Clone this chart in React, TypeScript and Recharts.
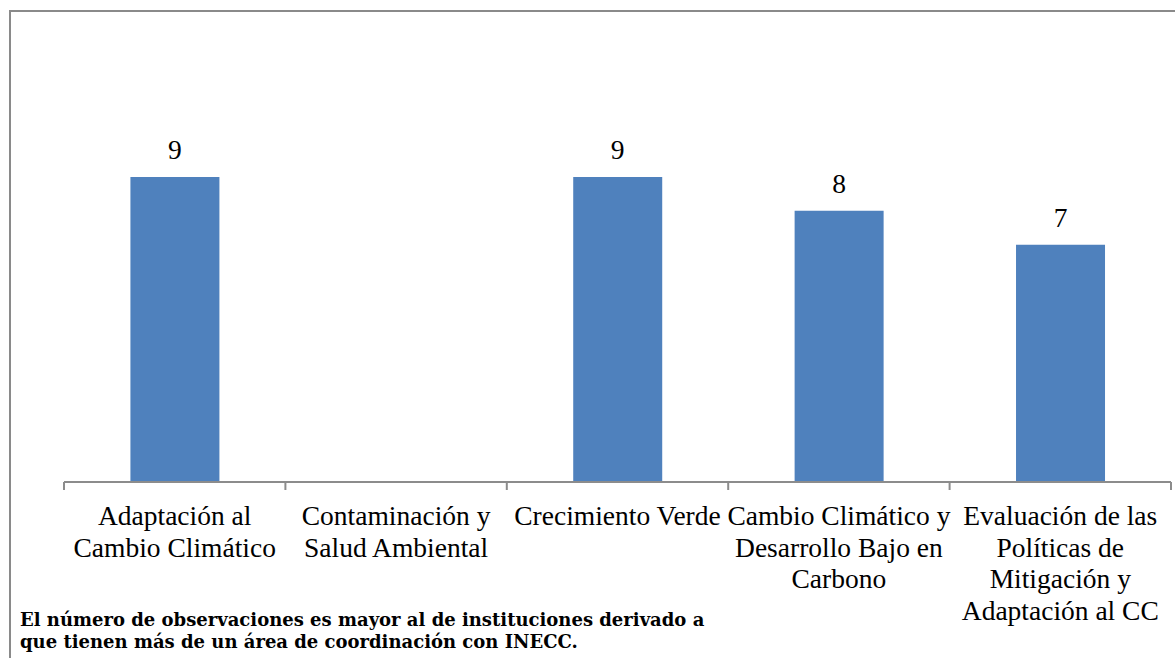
import React from "react";
import { Bar, BarChart, LabelList, XAxis, YAxis } from "recharts";

const categories = [
  "Adaptación al\nCambio Climático",
  "Contaminación y\nSalud Ambiental",
  "Crecimiento Verde",
  "Cambio Climático y\nDesarrollo Bajo en\nCarbono",
  "Evaluación de las\nPolíticas de\nMitigación y\nAdaptación al CC",
];
const observaciones: (number | null)[] = [9, null, 9, 8, 7];
const noteLines = [
  "El número de observaciones es mayor al de instituciones derivado a",
  "que tienen más de un área de coordinación con INECC.",
];

const data = categories.map((name, i) => ({ name, value: observaciones[i] }));

const SERIF = "'Liberation Serif', 'DejaVu Serif', serif";
const BLUE = "#4F81BD";
const AXIS = "#8c8c8c";
const TICK = 8;
const TICK_MARGIN = 2;

// label under each category; tick marks drawn at the band edges (Excel style)
function CategoryTick(props: any) {
  const { x, y, payload, index, visibleTicksCount } = props;
  const half = payload.offset || 0;
  const axisY = y - TICK - TICK_MARGIN;
  const lines = String(payload.value).split("\n");
  return (
    <g>
      <line x1={x - half} x2={x - half} y1={axisY} y2={axisY + TICK} stroke={AXIS} strokeWidth={2} />
      {index === visibleTicksCount - 1 && (
        <line x1={x + half} x2={x + half} y1={axisY} y2={axisY + TICK} stroke={AXIS} strokeWidth={2} />
      )}
      <text x={x} y={y} textAnchor="middle" fontFamily={SERIF} fontSize={27.5} fill="#000">
        {lines.map((l, i) => (
          <tspan key={i} x={x} dy={i === 0 ? 33 : 31.5}>
            {l}
          </tspan>
        ))}
      </text>
    </g>
  );
}

export default function App() {
  return (
    <div style={{ position: "absolute", left: 0, top: 0, width: 1175, height: 658, overflow: "hidden", background: "#fff" }}>
      <div style={{ position: "absolute", left: 9, top: 10, width: 1200, height: 700, border: "2px solid #8a8a8a", boxSizing: "border-box" }} />
      <div style={{ position: "absolute", left: 0, top: 0 }}>
        <BarChart width={1175} height={658} data={data} margin={{ top: 143, right: 4, bottom: 146, left: 64 }} barCategoryGap="30%">
          <YAxis hide domain={[0, 10]} />
          <XAxis
            dataKey="name"
            interval={0}
            tickLine={false}
            axisLine={{ stroke: AXIS, strokeWidth: 2 }}
            tickSize={TICK}
            tickMargin={TICK_MARGIN}
            tick={<CategoryTick />}
          />
          <Bar dataKey="value" fill={BLUE} isAnimationActive={false}>
            <LabelList dataKey="value" position="top" offset={18} fontFamily={SERIF} fontSize={27.5} fill="#000" />
          </Bar>
        </BarChart>
      </div>
      <div style={{ position: "absolute", left: 20, top: 609, fontFamily: "'DejaVu Serif', serif", fontWeight: "bold", fontSize: 18, lineHeight: "22px", color: "#000" }}>
        {noteLines.map((l, i) => (
          <div key={i}>{l}</div>
        ))}
      </div>
    </div>
  );
}
